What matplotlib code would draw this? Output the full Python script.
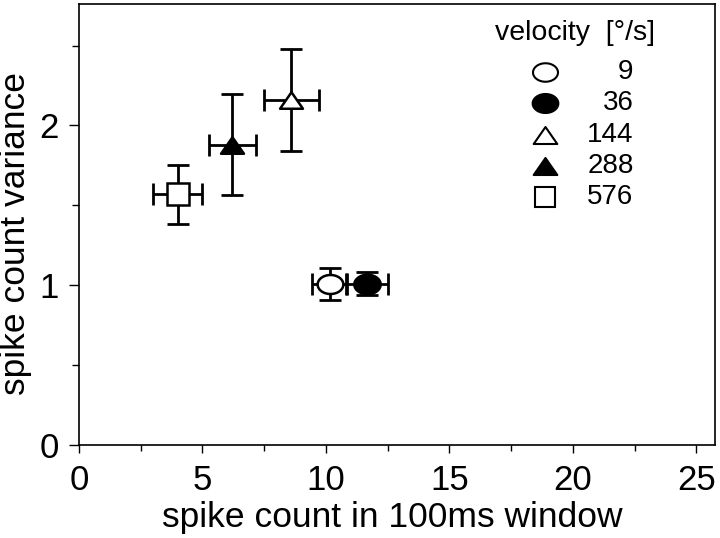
import matplotlib
matplotlib.use("Agg")
import matplotlib.pyplot as plt
import numpy as np
from matplotlib.path import Path
from matplotlib.ticker import MultipleLocator

# velocity conditions [deg/s]
velocities = ["9", "36", "144", "288", "576"]
mean_count = [10.15, 11.65, 8.6, 6.2, 4.0]
count_err = [0.72, 0.85, 1.1, 0.95, 1.0]
variance = [1.01, 1.01, 2.16, 1.88, 1.57]
var_err = [0.10, 0.07, 0.32, 0.315, 0.185]

plt.rcParams['font.family'] = ['Liberation Sans', 'DejaVu Sans']

# squashed circle and flat triangle like the original symbols
t = np.linspace(0, 2 * np.pi, 60)
ellipse = Path(np.column_stack([np.cos(t), 0.74 * np.sin(t)]), closed=True)
tri = Path([(0, 0.72), (-1, -0.72), (1, -0.72), (0, 0.72)], closed=True)

markers = [ellipse, ellipse, tri, tri, 's']
faces = ['white', 'black', 'white', 'black', 'white']
sizes = [18.5, 19, 16.5, 16.5, 15.5]
leg_sizes = [18, 18.5, 17, 17, 14.5]

fig = plt.figure(figsize=(7.2, 5.38), dpi=100)
ax = fig.add_axes([0.1097, 0.1729, 0.8833, 0.8197])

for i in range(len(velocities)):
    ax.errorbar(mean_count[i], variance[i], xerr=count_err[i], yerr=var_err[i],
                fmt='none', ecolor='black', elinewidth=2.0, capsize=8,
                capthick=2.0, zorder=2)
    ax.plot(mean_count[i], variance[i], linestyle='none', marker=markers[i],
            markersize=sizes[i], markerfacecolor=faces[i],
            markeredgecolor='black', markeredgewidth=1.8, zorder=3)

ax.set_xlim(0, 25.75)
ax.set_ylim(0, 2.76)
ax.xaxis.set_major_locator(MultipleLocator(5))
ax.xaxis.set_minor_locator(MultipleLocator(2.5))
ax.yaxis.set_major_locator(MultipleLocator(1))
ax.yaxis.set_minor_locator(MultipleLocator(0.5))
ax.tick_params(which='major', direction='out', length=6, width=1.0,
               labelsize=25, pad=8)
ax.tick_params(which='minor', direction='out', length=4, width=1.0)
ax.tick_params(axis='y', which='major', length=7.5, pad=7)
ax.tick_params(axis='y', which='minor', length=5)
for s in ax.spines.values():
    s.set_linewidth(1.2)

ax.set_xlabel("spike count in 100ms window", fontsize=25.5)
ax.set_ylabel("spike count variance", fontsize=25.5)
ax.xaxis.set_label_coords(0.493, -0.128)
ax.yaxis.set_label_coords(-0.074, 0.48)

# legend drawn in axes coordinates
ax.text(0.654, 0.934, "velocity  [°/s]", transform=ax.transAxes,
        fontsize=20.5, ha='left', va='center')
for i, lab in enumerate(velocities):
    yy = 0.846 - i * 0.071
    ax.plot(0.733, yy, transform=ax.transAxes, linestyle='none',
            marker=markers[i], markersize=leg_sizes[i],
            markerfacecolor=faces[i], markeredgecolor='black',
            markeredgewidth=1.5, clip_on=False)
    ax.text(0.872, yy, lab, transform=ax.transAxes, fontsize=20,
            ha='right', va='center')

fig.savefig("out.png", dpi=100)
